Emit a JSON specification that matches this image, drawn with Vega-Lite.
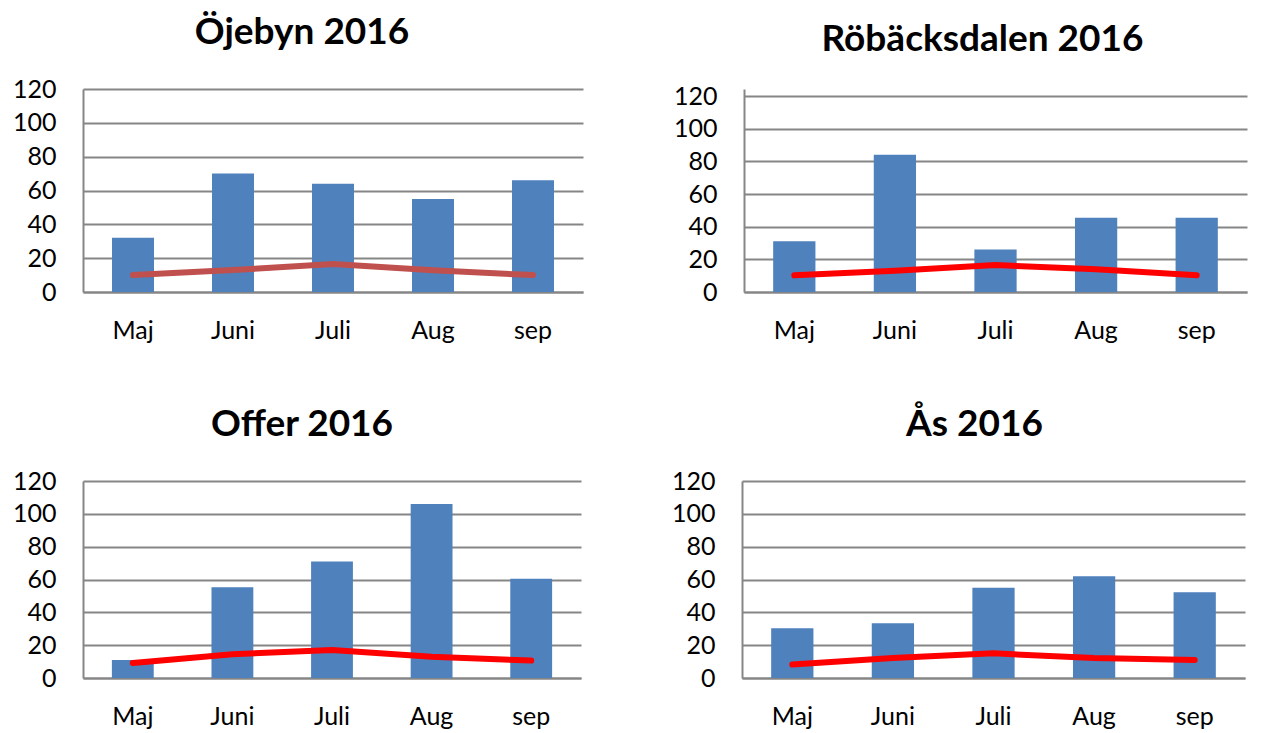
{
  "$schema": "https://vega.github.io/schema/vega-lite/v6.json",
  "padding": {"left": 12, "top": 14, "right": 5, "bottom": 5},
  "background": "white",
  "datasets": {
    "d": [
      {"site": "Öjebyn", "month": "Maj", "bar": 32, "line": 10},
      {"site": "Öjebyn", "month": "Juni", "bar": 70, "line": 13},
      {"site": "Öjebyn", "month": "Juli", "bar": 64, "line": 16.5},
      {"site": "Öjebyn", "month": "Aug", "bar": 55, "line": 12.8},
      {"site": "Öjebyn", "month": "sep", "bar": 66, "line": 10},
      {"site": "Röbäcksdalen", "month": "Maj", "bar": 31, "line": 10.2},
      {"site": "Röbäcksdalen", "month": "Juni", "bar": 84, "line": 13},
      {"site": "Röbäcksdalen", "month": "Juli", "bar": 26, "line": 16.5},
      {"site": "Röbäcksdalen", "month": "Aug", "bar": 45.5, "line": 14},
      {"site": "Röbäcksdalen", "month": "sep", "bar": 45.5, "line": 10.2},
      {"site": "Offer", "month": "Maj", "bar": 11, "line": 9.2},
      {"site": "Offer", "month": "Juni", "bar": 55.3, "line": 14.5},
      {"site": "Offer", "month": "Juli", "bar": 71, "line": 17},
      {"site": "Offer", "month": "Aug", "bar": 106, "line": 13},
      {"site": "Offer", "month": "sep", "bar": 60.4, "line": 10.6},
      {"site": "Ås", "month": "Maj", "bar": 30.3, "line": 8.2},
      {"site": "Ås", "month": "Juni", "bar": 33.3, "line": 12.2},
      {"site": "Ås", "month": "Juli", "bar": 55, "line": 15},
      {"site": "Ås", "month": "Aug", "bar": 62, "line": 12.2},
      {"site": "Ås", "month": "sep", "bar": 52.2, "line": 11}
    ]
  },
  "config": {
    "font": "Lato",
    "view": {"stroke": null},
    "title": {"font": "Lato", "fontSize": 37, "fontWeight": "bold", "color": "#000000"},
    "axis": {"labelFont": "Lato", "labelFontSize": 25, "labelColor": "#000000", "domainColor": "#868686", "domainWidth": 2, "ticks": false, "title": null},
    "axisX": {"labelAngle": 0, "labelPadding": 26, "grid": false},
    "axisY": {"labelPadding": 27, "grid": true, "gridColor": "#868686", "gridWidth": 2, "values": [0, 20, 40, 60, 80, 100, 120]},
    "scale": {"bandPaddingInner": 0.58, "bandPaddingOuter": 0.29},
    "concat": {"spacing": 63}
  },
  "vconcat": [
    {
      "spacing": 90,
      "hconcat": [
        {
          "title": {"text": "Öjebyn 2016", "offset": 25, "dx": -31},
          "width": 500, "height": 203,
          "data": {"name": "d"},
          "transform": [{"filter": "datum.site === 'Öjebyn'"}],
          "encoding": {"x": {"field": "month", "type": "nominal", "sort": ["Maj", "Juni", "Juli", "Aug", "sep"]}},
          "layer": [
            {"mark": {"type": "bar", "color": "#4F81BD"}, "encoding": {"y": {"field": "bar", "type": "quantitative", "scale": {"domain": [0, 120]}}}},
            {"mark": {"type": "line", "color": "#C0504D", "strokeWidth": 6, "strokeCap": "round"}, "encoding": {"y": {"field": "line", "type": "quantitative"}}}
          ]
        },
        {
          "title": {"text": "Röbäcksdalen 2016", "offset": 25, "dx": -13},
          "width": 503, "height": 203,
          "data": {"name": "d"},
          "transform": [{"filter": "datum.site === 'Röbäcksdalen'"}],
          "encoding": {"x": {"field": "month", "type": "nominal", "sort": ["Maj", "Juni", "Juli", "Aug", "sep"]}},
          "layer": [
            {"mark": {"type": "bar", "color": "#4F81BD"}, "encoding": {"y": {"field": "bar", "type": "quantitative", "scale": {"domain": [0, 124.3], "nice": false}}}},
            {"mark": {"type": "line", "color": "#FF0000", "strokeWidth": 6, "strokeCap": "round"}, "encoding": {"y": {"field": "line", "type": "quantitative"}}}
          ]
        }
      ]
    },
    {
      "spacing": 90,
      "hconcat": [
        {
          "title": {"text": "Offer 2016", "offset": 25, "dx": -30},
          "width": 498, "height": 197,
          "data": {"name": "d"},
          "transform": [{"filter": "datum.site === 'Offer'"}],
          "encoding": {"x": {"field": "month", "type": "nominal", "sort": ["Maj", "Juni", "Juli", "Aug", "sep"]}},
          "layer": [
            {"mark": {"type": "bar", "color": "#4F81BD"}, "encoding": {"y": {"field": "bar", "type": "quantitative", "scale": {"domain": [0, 120]}}}},
            {"mark": {"type": "line", "color": "#FF0000", "strokeWidth": 6, "strokeCap": "round"}, "encoding": {"y": {"field": "line", "type": "quantitative"}}}
          ]
        },
        {
          "title": {"text": "Ås 2016", "offset": 25, "dx": -19},
          "width": 503, "height": 197,
          "data": {"name": "d"},
          "transform": [{"filter": "datum.site === 'Ås'"}],
          "encoding": {"x": {"field": "month", "type": "nominal", "sort": ["Maj", "Juni", "Juli", "Aug", "sep"]}},
          "layer": [
            {"mark": {"type": "bar", "color": "#4F81BD"}, "encoding": {"y": {"field": "bar", "type": "quantitative", "scale": {"domain": [0, 120]}}}},
            {"mark": {"type": "line", "color": "#FF0000", "strokeWidth": 6, "strokeCap": "round"}, "encoding": {"y": {"field": "line", "type": "quantitative"}}}
          ]
        }
      ]
    }
  ]
}
